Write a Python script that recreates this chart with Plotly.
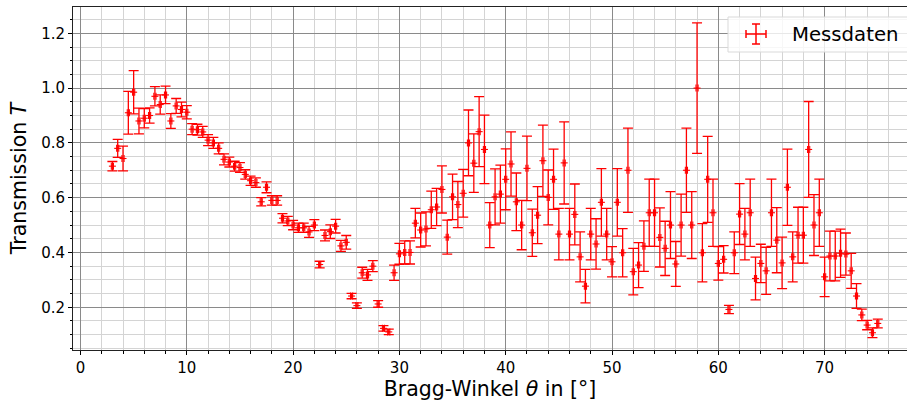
import plotly.graph_objects as go

# Bragg angle theta in degrees
theta = [3.0, 3.5, 4.0, 4.5, 5.0, 5.5, 6.0, 6.5, 7.0, 7.5, 8.0, 8.5, 9.0, 9.5, 10.0,
         10.5, 11.0, 11.5, 12.0, 12.5, 13.0, 13.5, 14.0, 14.5, 15.0, 15.5, 16.0, 16.5,
         17.0, 17.5, 18.0, 18.5, 19.0, 19.5, 20.0, 20.5, 21.0, 21.5, 22.0, 22.5, 23.0,
         23.5, 24.0, 24.5, 25.0, 25.5, 26.0, 26.5, 27.0, 27.5, 28.0, 28.5, 29.0, 29.5,
         30.0, 30.5, 31.0, 31.5, 32.0, 32.5, 33.0, 33.5, 34.0, 34.5, 35.0, 35.5, 36.0,
         36.5, 37.0, 37.5, 38.0, 38.5, 39.0, 39.5, 40.0, 40.5, 41.0, 41.5, 42.0, 42.5,
         43.0, 43.5, 44.0, 44.5, 45.0, 45.5, 46.0, 46.5, 47.0, 47.5, 48.0, 48.5, 49.0,
         49.5, 50.0, 50.5, 51.0, 51.5, 52.0, 52.5, 53.0, 53.5, 54.0, 54.5, 55.0, 55.5,
         56.0, 56.5, 57.0, 57.5, 58.0, 58.5, 59.0, 59.5, 60.0, 60.5, 61.0, 61.5, 62.0,
         62.5, 63.0, 63.5, 64.0, 64.5, 65.0, 65.5, 66.0, 66.5, 67.0, 67.5, 68.0, 68.5,
         69.0, 69.5, 70.0, 70.5, 71.0, 71.5, 72.0, 72.5, 73.0, 73.5, 74.0, 74.5, 75.0]

# Transmission T
transmission = [0.715, 0.78, 0.743, 0.91, 0.985, 0.88, 0.89, 0.90, 0.97, 0.94, 0.975, 0.88,
                0.935, 0.922, 0.912, 0.85, 0.848, 0.84, 0.81, 0.80, 0.78, 0.74, 0.73, 0.715,
                0.71, 0.685, 0.662, 0.655, 0.585, 0.638, 0.59, 0.59, 0.525, 0.515, 0.50,
                0.49, 0.49, 0.475, 0.50, 0.356, 0.462, 0.476, 0.496, 0.424, 0.437, 0.241,
                0.206, 0.326, 0.318, 0.35, 0.212, 0.123, 0.11, 0.326, 0.395, 0.40, 0.40,
                0.507, 0.482, 0.486, 0.556, 0.566, 0.63, 0.456, 0.603, 0.575, 0.616, 0.80,
                0.726, 0.841, 0.776, 0.50, 0.603, 0.613, 0.667, 0.723, 0.585, 0.50, 0.707,
                0.472, 0.536, 0.735, 0.601, 0.667, 0.467, 0.727, 0.467, 0.539, 0.384, 0.277,
                0.467, 0.431, 0.583, 0.467, 0.366, 0.583, 0.399, 0.70, 0.33, 0.354, 0.423,
                0.545, 0.545, 0.455, 0.415, 0.50, 0.358, 0.50, 0.70, 0.50, 1.0, 0.399, 0.667,
                0.545, 0.36, 0.375, 0.192, 0.399, 0.54, 0.467, 0.545, 0.305, 0.36, 0.333,
                0.545, 0.445, 0.362, 0.638, 0.384, 0.463, 0.463, 0.776, 0.50, 0.545, 0.311,
                0.387, 0.387, 0.397, 0.394, 0.333, 0.241, 0.172, 0.135, 0.107, 0.141]

# Uncertainty of T
transmission_err = [0.017, 0.033, 0.045, 0.078, 0.079, 0.047, 0.035, 0.028, 0.035, 0.035,
                    0.032, 0.027, 0.027, 0.027, 0.024, 0.02, 0.02, 0.02, 0.02, 0.02, 0.02,
                    0.02, 0.018, 0.018, 0.018, 0.017, 0.017, 0.017, 0.015, 0.02, 0.017, 0.017,
                    0.017, 0.017, 0.017, 0.017, 0.017, 0.02, 0.02, 0.012, 0.02, 0.025, 0.025,
                    0.02, 0.025, 0.01, 0.01, 0.02, 0.02, 0.02, 0.012, 0.01, 0.01, 0.028,
                    0.038, 0.042, 0.042, 0.054, 0.062, 0.062, 0.068, 0.068, 0.086, 0.062,
                    0.083, 0.084, 0.087, 0.12, 0.107, 0.128, 0.125, 0.082, 0.102, 0.106,
                    0.111, 0.117, 0.105, 0.09, 0.118, 0.086, 0.104, 0.13, 0.10, 0.11, 0.094,
                    0.15, 0.094, 0.111, 0.091, 0.061, 0.094, 0.092, 0.123, 0.094, 0.055, 0.123,
                    0.088, 0.154, 0.085, 0.082, 0.092, 0.123, 0.123, 0.108, 0.099, 0.122,
                    0.082, 0.113, 0.154, 0.122, 0.238, 0.106, 0.157, 0.123, 0.061, 0.05,
                    0.015, 0.076, 0.111, 0.094, 0.123, 0.078, 0.07, 0.086, 0.123, 0.119,
                    0.094, 0.139, 0.091, 0.102, 0.102, 0.175, 0.111, 0.123, 0.072, 0.091,
                    0.091, 0.088, 0.077, 0.064, 0.045, 0.021, 0.017, 0.018, 0.016]

# Uncertainty of the angle (degrees)
theta_err = 0.1

x_tick_vals = [0, 10, 20, 30, 40, 50, 60, 70]
y_tick_vals = [0.2, 0.4, 0.6, 0.8, 1.0, 1.2]

RED = "#ff0000"
FONT = "DejaVu Sans"
W, H = 907, 405
ML, MR, MT, MB = 73, 0, 7, 55

fig = go.Figure()
fig.add_trace(go.Scatter(
    x=theta, y=transmission, mode="markers", name="Messdaten",
    marker=dict(symbol="line-ew", size=5, color=RED, line=dict(color=RED, width=1.1)),
    error_y=dict(type="data", array=transmission_err, visible=True, color=RED,
                 thickness=1.3, width=5),
    error_x=dict(type="constant", value=theta_err, visible=True, color=RED,
                 thickness=1.1, width=3.5),
    showlegend=False,
))

pw = W - ML - MR
ph = H - MT - MB


def px_x(p):
    return (p - ML) / pw


def px_y(p):
    return (H - MB - p) / ph


shapes = []
# legend box (cropped at the right edge like the reference)
shapes.append(dict(type="rect", xref="paper", yref="paper",
                   x0=px_x(728), x1=px_x(925), y0=px_y(52), y1=px_y(17),
                   line=dict(color="#d9d9d9", width=1), fillcolor="rgba(255,255,255,0.8)",
                   layer="above"))
# legend glyph: error bar cross
cx, cy = 756, 34
for (x0, y0, x1, y1) in [(cx, cy - 10, cx, cy + 10), (cx - 10, cy, cx + 10, cy),
                         (cx - 4, cy - 10, cx + 4, cy - 10), (cx - 4, cy + 10, cx + 4, cy + 10),
                         (cx - 10, cy - 4, cx - 10, cy + 4), (cx + 10, cy - 4, cx + 10, cy + 4)]:
    shapes.append(dict(type="line", xref="paper", yref="paper",
                       x0=px_x(x0), x1=px_x(x1), y0=px_y(y0), y1=px_y(y1),
                       line=dict(color=RED, width=1.5), layer="above"))

fig.update_layout(
    width=W, height=H,
    margin=dict(l=ML, r=MR, t=MT, b=MB, pad=0, autoexpand=False),
    paper_bgcolor="white", plot_bgcolor="white",
    font=dict(family=FONT, size=15, color="black"),
    shapes=shapes,
    annotations=[dict(text="Messdaten", xref="paper", yref="paper",
                      x=px_x(790), y=px_y(34), xanchor="left", yanchor="middle",
                      showarrow=False, font=dict(family=FONT, size=19.7, color="black"))],
    xaxis=dict(
        automargin=False,
        range=[-0.705, 77.75], tickvals=x_tick_vals, ticks="outside", ticklen=4,
        tickwidth=1, tickcolor="black", showline=True, linecolor="#222", linewidth=1,
        mirror=True, showgrid=True, gridcolor="#8a8a8a", gridwidth=1, zeroline=False,
        minor=dict(dtick=2, ticks="outside", ticklen=2.5, tickcolor="black",
                   showgrid=True, gridcolor="#d4d4d4", gridwidth=1),
        title=dict(text="Bragg-Winkel <i>θ</i> in [°]", font=dict(family=FONT, size=20.5),
                   standoff=4),
        tickfont=dict(family=FONT, size=15),
    ),
    yaxis=dict(
        automargin=False,
        range=[0.044, 1.296], tickvals=y_tick_vals, tickformat=".1f", ticks="outside",
        ticklen=4, tickwidth=1, tickcolor="black", showline=True, linecolor="#222",
        linewidth=1, mirror=False, showgrid=True, gridcolor="#8a8a8a", gridwidth=1,
        zeroline=False,
        minor=dict(dtick=0.05, tick0=0, ticks="outside", ticklen=2.5, tickcolor="black",
                   showgrid=True, gridcolor="#d4d4d4", gridwidth=1),
        title=dict(text="Transmission <i>T</i>", font=dict(family=FONT, size=20.5),
                   standoff=8),
        tickfont=dict(family=FONT, size=15),
    ),
)

fig.write_html(
    "out.html",
    config={"displayModeBar": False, "staticPlot": True},
    post_script="document.body.style.margin='0';document.body.style.overflow='hidden';",
)
